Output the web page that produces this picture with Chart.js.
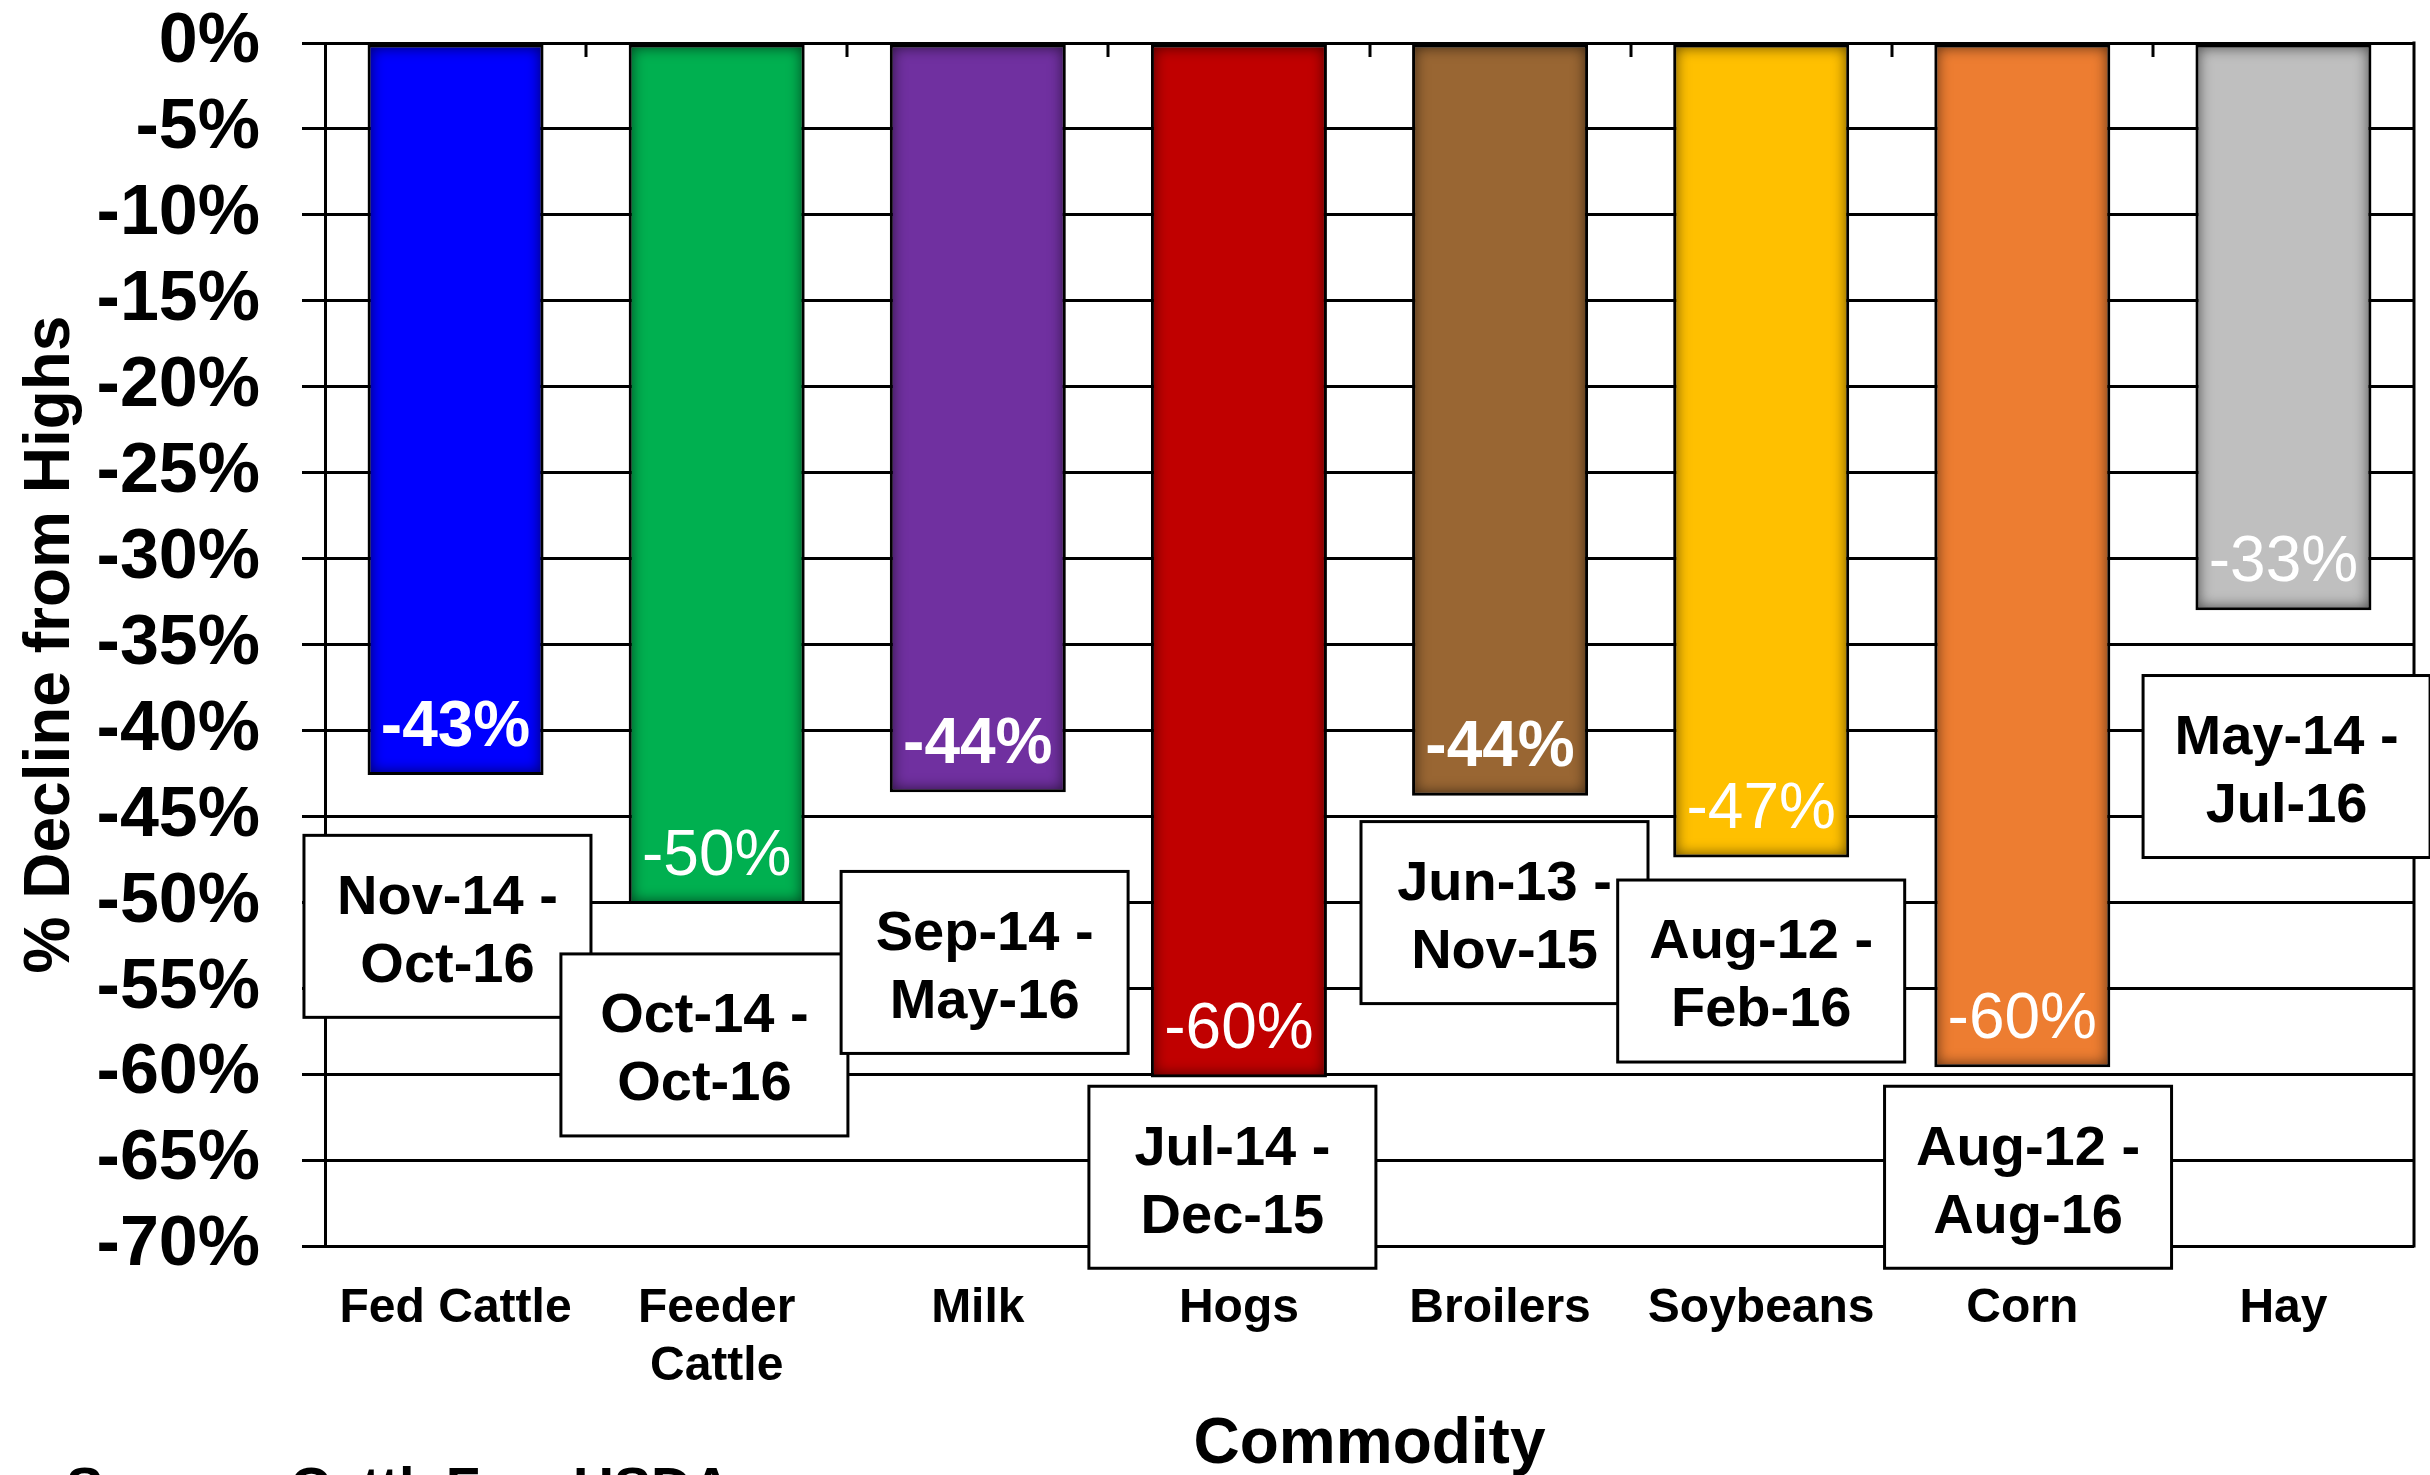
<!DOCTYPE html>
<html>
<head>
<meta charset="utf-8">
<title>Commodity Price Declines from Highs</title>
<script src="https://cdn.jsdelivr.net/npm/chart.js@4/dist/chart.umd.min.js"></script>
<style>
  html, body { margin: 0; padding: 0; background: #ffffff; overflow: hidden; }
  #wrap { width: 2430px; height: 1475px; position: relative; }
</style>
</head>
<body>
<div id="wrap"><canvas id="chart" width="2430" height="1475"></canvas></div>
<script>
// ---- data ----
const commodities = ['Fed Cattle', ['Feeder', 'Cattle'], 'Milk', 'Hogs', 'Broilers', 'Soybeans', 'Corn', 'Hay'];
const declinePct  = [-42.6, -50.1, -43.6, -60.2, -43.8, -47.4, -59.6, -33.0];
const highDates   = ['Nov-14', 'Oct-14', 'Sep-14', 'Jul-14', 'Jun-13', 'Aug-12', 'Aug-12', 'May-14'];
const lowDates    = ['Oct-16', 'Oct-16', 'May-16', 'Dec-15', 'Nov-15', 'Feb-16', 'Aug-16', 'Jul-16'];
const yTickValues = [0, -5, -10, -15, -20, -25, -30, -35, -40, -45, -50, -55, -60, -65, -70];

// ---- styling ----
const barColors   = ['#0000FF', '#00B050', '#7030A0', '#C00000', '#996633', '#FFC000', '#ED7D31', '#BFBFBF'];
const valueWeight = ['bold', 'normal', 'bold', 'normal', 'bold', 'normal', 'normal', 'normal'];

// date-range callouts: horizontal shift (in categories) and vertical centre (in % units)
const calloutDx = [-0.031, -0.047, 0.026, -0.025, 0.017, 0.0, 0.022, 0.012];
const calloutY  = [-51.4, -58.3, -53.5, -66.0, -50.6, -54.0, -66.0, -42.1];

const FONT = "'Liberation Sans', Arial, Helvetica, sans-serif";

// darker glow along the inside edges of each bar
const barShading = {
  id: 'barShading',
  afterDatasetDraw(chart, args) {
    const ctx = chart.ctx;
    const bw = 3;
    args.meta.data.forEach(bar => {
      const p = bar.getProps(['x', 'y', 'base', 'width'], true);
      const l = p.x - p.width / 2 + bw, r = p.x + p.width / 2 - bw;
      const t = Math.min(p.y, p.base) + bw, b = Math.max(p.y, p.base) - bw;
      ctx.save();
      ctx.beginPath();
      ctx.rect(l, t, r - l, b - t);
      ctx.clip();
      ctx.beginPath();
      ctx.rect(l - 300, t - 300, (r - l) + 600, (b - t) + 600);
      ctx.rect(l, t, r - l, b - t);
      ctx.shadowColor = 'rgba(0,0,0,0.6)';
      ctx.shadowBlur = 14;
      ctx.fillStyle = '#000';
      ctx.fill('evenodd');
      ctx.restore();
    });
  }
};

// frame pieces: right border and short category ticks along the top
const frame = {
  id: 'frame',
  beforeDatasetsDraw(chart) {
    const { ctx, chartArea } = chart;
    const xs = chart.scales.x;
    ctx.save();
    ctx.strokeStyle = '#000';
    ctx.lineWidth = 3;
    ctx.beginPath();
    ctx.moveTo(chartArea.right, chartArea.top - 1.5);
    ctx.lineTo(chartArea.right, chartArea.bottom + 1.5);
    ctx.stroke();
    for (let i = 1; i < commodities.length; i++) {
      const x = Math.round((xs.getPixelForValue(i - 1) + xs.getPixelForValue(i)) / 2);
      ctx.beginPath();
      ctx.moveTo(x, chartArea.top);
      ctx.lineTo(x, chartArea.top + 14);
      ctx.stroke();
    }
    ctx.restore();
  }
};

// value labels inside the bars and the date-range callouts
const annotations = {
  id: 'annotations',
  afterDatasetsDraw(chart) {
    const ctx = chart.ctx;
    const xs = chart.scales.x, ys = chart.scales.y;
    const meta = chart.getDatasetMeta(0);
    ctx.save();
    ctx.textAlign = 'center';
    ctx.textBaseline = 'middle';
    meta.data.forEach((bar, i) => {
      const p = bar.getProps(['x', 'y'], true);
      ctx.fillStyle = '#ffffff';
      ctx.font = valueWeight[i] + ' 64px ' + FONT;
      ctx.fillText(Math.round(declinePct[i]) + '%', p.x, p.y - 47);
    });
    const boxW = 287, boxH = 182;
    commodities.forEach((c, i) => {
      const cx = xs.getPixelForValue(i + calloutDx[i]);
      const cy = ys.getPixelForValue(calloutY[i]);
      ctx.fillStyle = '#ffffff';
      ctx.fillRect(cx - boxW / 2, cy - boxH / 2, boxW, boxH);
      ctx.strokeStyle = '#000';
      ctx.lineWidth = 3;
      ctx.strokeRect(cx - boxW / 2, cy - boxH / 2, boxW, boxH);
      ctx.fillStyle = '#000';
      ctx.font = 'bold 56px ' + FONT;
      ctx.fillText(highDates[i] + ' -', cx, cy - 28);
      ctx.fillText(lowDates[i], cx, cy + 40);
    });
    ctx.restore();
  },
  afterDraw(chart) {
    const ctx = chart.ctx;
    ctx.save();
    ctx.fillStyle = '#000';
    ctx.font = 'bold 56px ' + FONT;
    ctx.textAlign = 'left';
    ctx.textBaseline = 'alphabetic';
    ctx.fillText('Source: CattleFax, USDA', 66, chart.height + 31);
    ctx.restore();
  }
};

new Chart(document.getElementById('chart'), {
  type: 'bar',
  data: {
    labels: commodities,
    datasets: [{
      data: declinePct,
      backgroundColor: barColors,
      borderColor: '#000000',
      borderWidth: 3,
      borderSkipped: false,
      categoryPercentage: 1.0,
      barPercentage: 0.674
    }]
  },
  options: {
    responsive: false,
    animation: false,
    events: [],
    layout: { padding: { top: 43, right: 16, left: 0, bottom: 0 } },
    plugins: {
      legend: { display: false },
      tooltip: { enabled: false }
    },
    scales: {
      x: {
        grid: { display: false, drawTicks: false },
        border: { display: false },
        ticks: {
          color: '#000',
          font: { family: FONT, size: 48, weight: 'bold', lineHeight: 1.22 },
          padding: 33,
          maxRotation: 0,
          autoSkip: false
        },
        title: {
          display: true,
          text: 'Commodity',
          color: '#000',
          font: { family: FONT, size: 64, weight: 'bold', lineHeight: 1.0 },
          padding: { top: 0, bottom: -2 }
        },
        afterFit(scale) { scale.height = 229; }
      },
      y: {
        min: -70,
        max: 0,
        afterBuildTicks(scale) { scale.ticks = yTickValues.map(v => ({ value: v })); },
        grid: { color: '#000', lineWidth: 3, drawTicks: true, tickLength: 23 },
        border: { display: true, color: '#000', width: 3 },
        ticks: {
          color: '#000',
          font: { family: FONT, size: 70, weight: 'bold', lineHeight: 1 },
          padding: 42,
          callback: v => v + '%'
        },
        title: {
          display: true,
          text: '% Decline from Highs',
          color: '#000',
          font: { family: FONT, size: 64, weight: 'bold', lineHeight: 1.2 },
          padding: { top: 13, bottom: 0 }
        },
        afterFit(scale) {
          scale.width = 325;
          scale.paddingTop = 0;
          scale.paddingBottom = 0;
        }
      }
    }
  },
  plugins: [frame, barShading, annotations]
});
</script>
</body>
</html>
